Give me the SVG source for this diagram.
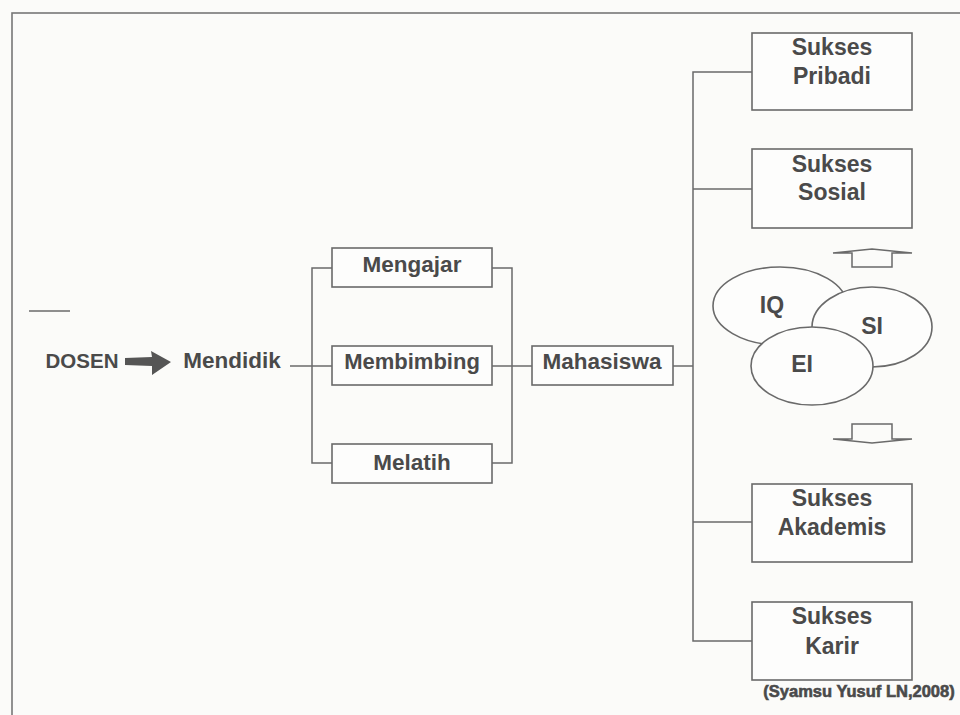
<svg xmlns="http://www.w3.org/2000/svg" width="960" height="715" viewBox="0 0 960 715">
<defs>
<style>
.bx{fill:#fdfdfc;stroke:#6a6a6a;stroke-width:1.6}
.ln{fill:none;stroke:#6a6a6a;stroke-width:1.5}
.el{fill:#fdfdfc;stroke:#6a6a6a;stroke-width:1.6}
.t{font-family:"Liberation Sans",Arial,sans-serif;font-weight:bold;fill:#4a4a4a;text-anchor:middle}
</style>
</defs>
<rect x="0" y="0" width="960" height="715" fill="#fbfbf9"/>
<rect x="12" y="13" width="960" height="720" fill="none" stroke="#777" stroke-width="1.6"/>
<g id="connectors">
<line class="ln" x1="29" y1="311" x2="70" y2="311"/>
<path d="M125,358 L152,357 L151,351 L171,362 L152,375 L152,366 L125,365 Z" fill="#555"/>
<path class="ln" d="M290,366 L332,366"/>
<path class="ln" d="M332,268 L312,268 L312,463 L332,463"/>
<path class="ln" d="M492,268 L512,268 L512,463 L492,463"/>
<path class="ln" d="M492,366 L532,366"/>
<path class="ln" d="M673,366 L693,366"/>
<path class="ln" d="M752,72 L693,72 L693,641 L752,641"/>
<path class="ln" d="M693,189 L752,189"/>
<path class="ln" d="M693,522 L752,522"/>
<path class="ln" d="M852,267 L852,253 L833,253 L872,249 L912,253 L892,253 L892,267 Z"/>
<path class="ln" d="M852,424 L852,439 L833,439 L872,443 L912,439 L892,439 L892,424 Z"/>
</g>
<g id="dosen"><text class="t" x="82" y="368" font-size="20.5">DOSEN</text></g>
<g id="mendidik"><text class="t" x="232" y="368" font-size="22.5">Mendidik</text></g>
<g id="mengajar"><rect class="bx" x="332" y="248" width="160" height="39"/><text class="t" x="412" y="272" font-size="22.5">Mengajar</text></g>
<g id="membimbing"><rect class="bx" x="332" y="346" width="160" height="39"/><text class="t" x="412" y="369" font-size="22">Membimbing</text></g>
<g id="melatih"><rect class="bx" x="332" y="444" width="160" height="39"/><text class="t" x="412" y="470" font-size="22.5">Melatih</text></g>
<g id="mahasiswa"><rect class="bx" x="532" y="346" width="141" height="39"/><text class="t" x="602" y="369" font-size="22.5">Mahasiswa</text></g>
<g id="sukses-pribadi"><rect class="bx" x="752" y="33" width="160" height="77"/><text class="t" x="832" y="55" font-size="23">Sukses</text><text class="t" x="832" y="84" font-size="23">Pribadi</text></g>
<g id="sukses-sosial"><rect class="bx" x="752" y="149" width="160" height="79"/><text class="t" x="832" y="172" font-size="23">Sukses</text><text class="t" x="832" y="200" font-size="23">Sosial</text></g>
<g id="sukses-akademis"><rect class="bx" x="752" y="484" width="160" height="78"/><text class="t" x="832" y="506" font-size="23">Sukses</text><text class="t" x="832" y="535" font-size="23">Akademis</text></g>
<g id="sukses-karir"><rect class="bx" x="752" y="602" width="160" height="78"/><text class="t" x="832" y="624" font-size="23">Sukses</text><text class="t" x="832" y="654" font-size="23">Karir</text></g>
<g id="iq"><ellipse class="el" cx="780" cy="306" rx="67" ry="39"/><text class="t" x="772" y="313" font-size="23">IQ</text></g>
<g id="si"><ellipse class="el" cx="872" cy="327" rx="60" ry="40"/><text class="t" x="872" y="334" font-size="23">SI</text></g>
<g id="ei"><ellipse class="el" cx="812" cy="366" rx="61" ry="39"/><text class="t" x="802" y="372" font-size="23">EI</text></g>
<g id="citation"><text class="t" x="859" y="697" font-size="16.5" stroke="#4a4a4a" stroke-width="0.6">(Syamsu Yusuf LN,2008)</text></g>
</svg>
